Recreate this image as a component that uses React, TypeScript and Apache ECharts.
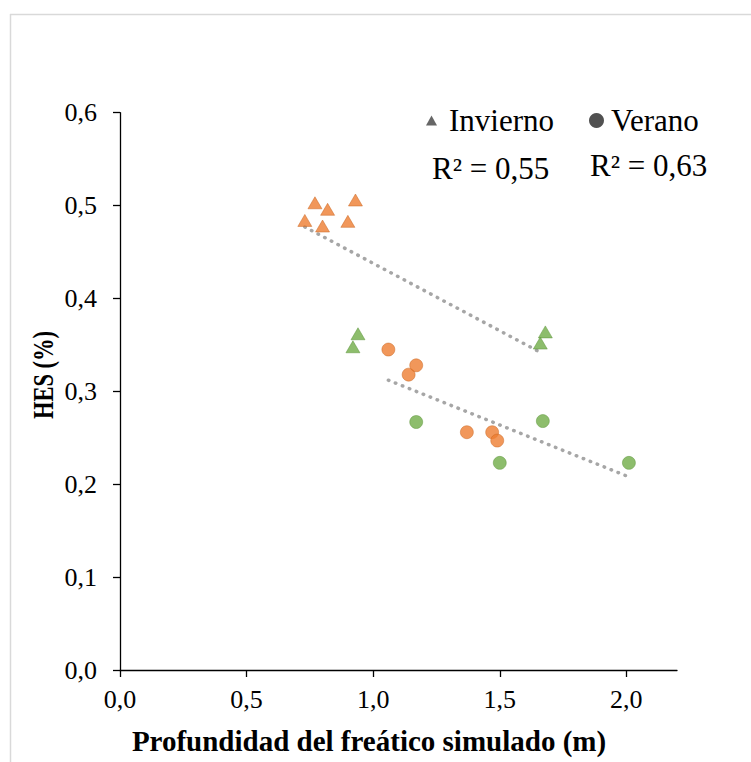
import React, { useEffect, useRef } from "react";
import * as echarts from "echarts";

const ORANGE = "#ED7D31";
const GREEN = "#70AD47";

// Invierno (triangles)
const invX = [0.73, 0.77, 0.80, 0.82, 0.90, 0.93, 0.92, 0.94, 1.66, 1.68];
const invY = [0.484, 0.503, 0.478, 0.496, 0.483, 0.506, 0.348, 0.362, 0.352, 0.364];
const invGroup = ["o", "o", "o", "o", "o", "o", "g", "g", "g", "g"];

// Verano (circles)
const verX = [1.06, 1.14, 1.17, 1.37, 1.47, 1.49, 1.17, 1.50, 1.67, 2.01];
const verY = [0.345, 0.318, 0.328, 0.256, 0.256, 0.247, 0.267, 0.223, 0.268, 0.223];
const verGroup = ["o", "o", "o", "o", "o", "o", "g", "g", "g", "g"];

// Trend lines
const invTrendX = [0.73, 1.66];
const invTrendY = [0.477, 0.342];
const verTrendX = [1.06, 2.0];
const verTrendY = [0.312, 0.209];

const yTicks = [0, 0.1, 0.2, 0.3, 0.4, 0.5, 0.6];
const xTicks = [0, 0.5, 1.0, 1.5, 2.0];

const legendNames = ["Invierno", "Verano"];
const r2Labels = ["R² = 0,55", "R² = 0,63"];
const xTitle = "Profundidad del freático simulado (m)";
const yTitle = "HES (%)";

const FONT = "'Liberation Serif', 'Times New Roman', serif";

function pts(xs: number[], ys: number[], groups: string[]) {
  return xs.map((x, i) => ({
    value: [x, ys[i]],
    itemStyle: {
      color: groups[i] === "o" ? ORANGE : GREEN,
      borderColor: groups[i] === "o" ? "#C9651F" : "#5A9338",
      borderWidth: 0.6,
    },
  }));
}

export default function App() {
  const ref = useRef<HTMLDivElement>(null);
  useEffect(() => {
    document.body.style.margin = "0";
    const chart = echarts.init(ref.current!, null, { renderer: "svg" });
    const dotted = {
      color: "#A6A6A6",
      width: 3.5,
      type: [0.5, 7] as number[],
      cap: "round" as const,
    };
    chart.setOption({
      animation: false,
      backgroundColor: "#FFFFFF",
      textStyle: { fontFamily: FONT },
      grid: {
        left: 120,
        right: 74,
        top: 112.7,
        bottom: 92,
        outerBoundsMode: "none",
        containLabel: false,
      },
      xAxis: {
        type: "value",
        min: 0,
        max: 2.2,
        interval: 0.5,
        axisLine: { lineStyle: { color: "#000", width: 1.3 } },
        axisTick: {
          show: true,
          length: 7,
          inside: false,
          customValues: xTicks,
          lineStyle: { color: "#000", width: 1.3 },
        },
        axisLabel: {
          customValues: xTicks,
          fontFamily: FONT,
          fontSize: 26,
          color: "#000",
          margin: 16,
          formatter: (v: number) => v.toFixed(1).replace(".", ","),
        },
        splitLine: { show: false },
      },
      yAxis: {
        type: "value",
        min: 0,
        max: 0.6,
        interval: 0.1,
        axisLine: { show: true, lineStyle: { color: "#000", width: 1.3 } },
        axisTick: {
          show: true,
          length: 7,
          inside: false,
          customValues: yTicks,
          lineStyle: { color: "#000", width: 1.3 },
        },
        axisLabel: {
          customValues: yTicks,
          fontFamily: FONT,
          fontSize: 26,
          color: "#000",
          margin: 23,
          formatter: (v: number) => v.toFixed(1).replace(".", ","),
        },
        splitLine: { show: false },
      },
      legend: [
        {
          data: [{ name: legendNames[0], icon: "triangle", itemStyle: { color: "#404040" } }],
          left: 421,
          top: 100,
          itemWidth: 11,
          itemHeight: 10,
          textStyle: {
            fontFamily: FONT,
            fontSize: 31,
            color: "#000",
            padding: [0, 0, 0, 7],
          },
        },
        {
          data: [{ name: legendNames[1], icon: "circle", itemStyle: { color: "#262626" } }],
          left: 584,
          top: 100,
          itemWidth: 15,
          itemHeight: 15,
          textStyle: {
            fontFamily: FONT,
            fontSize: 31,
            color: "#000",
            padding: [0, 0, 0, 2],
          },
        },
      ],
      graphic: [
        {
          type: "line",
          silent: true,
          shape: { x1: 10, y1: 14.5, x2: 751, y2: 14.5 },
          style: { stroke: "#D9D9D9", lineWidth: 1.5 },
        },
        {
          type: "line",
          silent: true,
          shape: { x1: 10.5, y1: 14, x2: 10.5, y2: 762 },
          style: { stroke: "#D9D9D9", lineWidth: 1.5 },
        },
        {
          type: "text",
          left: 432,
          top: 153,
          style: { text: r2Labels[0], font: `31px ${FONT}`, fill: "#000" },
        },
        {
          type: "text",
          left: 590,
          top: 150,
          style: { text: r2Labels[1], font: `31px ${FONT}`, fill: "#000" },
        },
        {
          type: "text",
          x: 43,
          y: 375,
          rotation: Math.PI / 2,
          scaleX: 0.75,
          style: {
            text: yTitle,
            font: `bold 30px ${FONT}`,
            fill: "#000",
            align: "center",
            verticalAlign: "middle",
          },
        },
        {
          type: "text",
          x: 369,
          y: 741,
          style: {
            text: xTitle,
            font: `bold 29px ${FONT}`,
            fill: "#000",
            align: "center",
            verticalAlign: "middle",
          },
        },
      ],
      series: [
        {
          name: "trendInv",
          type: "line",
          silent: true,
          symbol: "none",
          data: invTrendX.map((x, i) => [x, invTrendY[i]]),
          lineStyle: dotted,
          z: 1,
        },
        {
          name: "trendVer",
          type: "line",
          silent: true,
          symbol: "none",
          data: verTrendX.map((x, i) => [x, verTrendY[i]]),
          lineStyle: dotted,
          z: 1,
        },
        {
          name: legendNames[0],
          type: "scatter",
          symbol: "triangle",
          symbolSize: [14, 12],
          itemStyle: { color: "#404040" },
          data: pts(invX, invY, invGroup),
          z: 3,
        },
        {
          name: legendNames[1],
          type: "scatter",
          symbol: "circle",
          symbolSize: 13,
          itemStyle: { color: "#262626" },
          data: pts(verX, verY, verGroup),
          z: 3,
        },
      ],
    });
    return () => chart.dispose();
  }, []);
  return <div ref={ref} style={{ width: 751, height: 762 }} />;
}
